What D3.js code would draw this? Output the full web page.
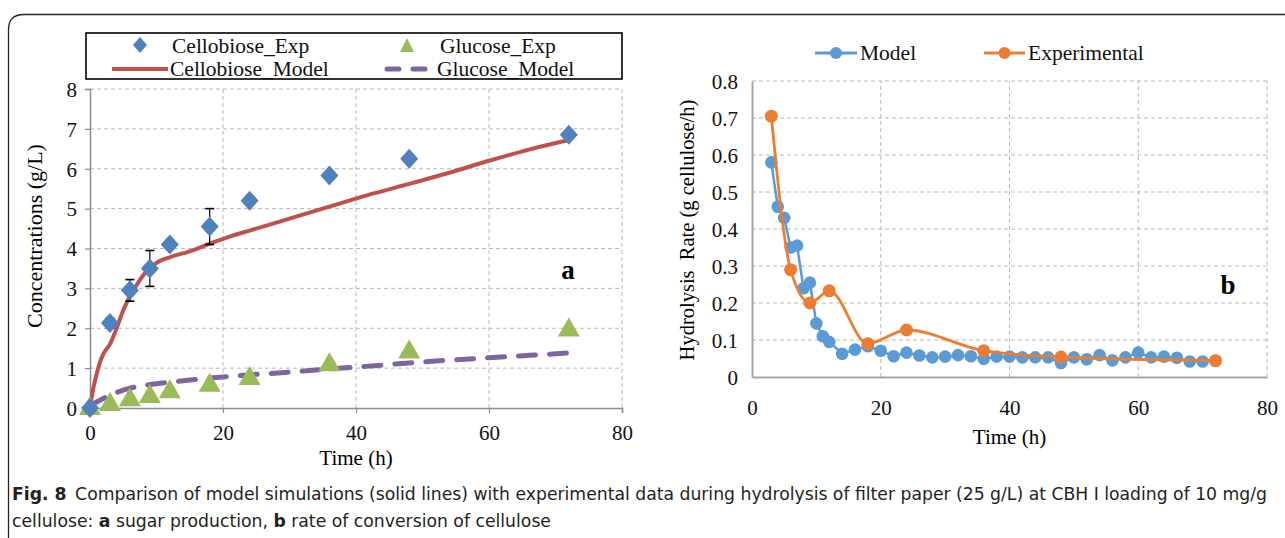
<!DOCTYPE html>
<html><head><meta charset="utf-8">
<script src="https://cdn.jsdelivr.net/npm/d3@7"></script>
<style>
html,body{margin:0;padding:0;background:#fff;}
svg{display:block;}
</style></head>
<body>
<svg id="fig" width="1285" height="538"></svg>
<script>
// ---------- Data: panel a ----------
const expTime = [0, 3, 6, 9, 12, 18, 24, 36, 48, 72];
const cellobioseExp = [0, 2.13, 2.95, 3.5, 4.1, 4.55, 5.2, 5.83, 6.25, 6.85];
const cellobioseErr = [0.04, 0.12, 0.27, 0.45, 0.1, 0.45, 0.06, 0.06, 0.1, 0.05];
const glucoseExp = [0, 0.1, 0.22, 0.3, 0.42, 0.58, 0.75, 1.1, 1.42, 1.97];
const glucoseErr = [0.03, 0.06, 0.07, 0.08, 0.07, 0.07, 0.06, 0.07, 0.07, 0.06];
const cbModelTime = [0, 0.5, 1, 1.5, 2, 3, 4, 5, 6, 7, 8, 9, 10, 12, 15, 18, 21, 24, 30, 36, 42, 48, 54, 60, 66, 72];
const cellobioseModel = [0, 0.5, 0.85, 1.15, 1.35, 1.6, 2.0, 2.45, 2.8, 3.08, 3.33, 3.5, 3.64, 3.78, 3.93, 4.12, 4.3, 4.45, 4.75, 5.05, 5.35, 5.62, 5.9, 6.2, 6.48, 6.72];
const glcModelTime = [0, 1, 2, 3, 4, 5, 6, 8, 10, 12, 15, 18, 24, 30, 36, 42, 48, 54, 60, 66, 72];
const glucoseModel = [0.05, 0.15, 0.24, 0.32, 0.39, 0.45, 0.5, 0.56, 0.61, 0.65, 0.7, 0.75, 0.83, 0.9, 0.98, 1.05, 1.13, 1.2, 1.26, 1.32, 1.38];
const aXTicks = [0, 20, 40, 60, 80];
const aYTicks = [0, 1, 2, 3, 4, 5, 6, 7, 8];

// ---------- Data: panel b ----------
const rateModelTime = [3, 4, 5, 6, 7, 8, 9, 10, 11, 12, 14, 16, 18, 20, 22, 24, 26, 28, 30, 32, 34, 36, 38, 40, 42, 44, 46, 48, 50, 52, 54, 56, 58, 60, 62, 64, 66, 68, 70, 72];
const rateModel = [0.58, 0.46, 0.43, 0.35, 0.355, 0.24, 0.255, 0.145, 0.11, 0.095, 0.063, 0.074, 0.083, 0.071, 0.056, 0.066, 0.058, 0.053, 0.055, 0.059, 0.056, 0.049, 0.055, 0.055, 0.053, 0.053, 0.053, 0.038, 0.053, 0.048, 0.059, 0.045, 0.053, 0.066, 0.053, 0.055, 0.052, 0.042, 0.042, 0.044];
const rateExpTime = [3, 6, 9, 12, 18, 24, 36, 48, 72];
const rateExp = [0.705, 0.29, 0.2, 0.233, 0.09, 0.127, 0.071, 0.054, 0.044];
const bXTicks = [0, 20, 40, 60, 80];
const bYTicks = [0, 0.1, 0.2, 0.3, 0.4, 0.5, 0.6, 0.7, 0.8];

const svg = d3.select("#fig");
svg.append("rect").attr("width", 1285).attr("height", 538).attr("fill", "#fff");

svg.append("path")
  .attr("d", "M8.5,540 L8.5,30 Q8.5,14.5 24,14.5 L1290,14.5")
  .attr("fill", "none").attr("stroke", "#222").attr("stroke-width", 1.3);

const gridColor = "#b8b8b8";
const axisColor = "#8c8c8c";
const fontSerif = '"Liberation Serif","Times New Roman",serif';
const fs = 21;

// ================= Panel a =================
const ax = d3.scaleLinear().domain([0, 80]).range([90, 622]);
const ay = d3.scaleLinear().domain([0, 8]).range([408, 89]);
const ga = svg.append("g");

ga.selectAll(".hg").data(aYTicks.filter(d => d > 0)).join("line")
  .attr("x1", ax(0)).attr("x2", ax(80)).attr("y1", d => ay(d)).attr("y2", d => ay(d))
  .attr("stroke", gridColor).attr("stroke-dasharray", "4,3").attr("stroke-width", 1);
ga.selectAll(".vg").data(aXTicks.filter(d => d > 0)).join("line")
  .attr("x1", d => ax(d)).attr("x2", d => ax(d)).attr("y1", ay(0)).attr("y2", ay(8))
  .attr("stroke", gridColor).attr("stroke-dasharray", "4,3").attr("stroke-width", 1);

const aLeft = d3.axisLeft(ay).tickValues(aYTicks).tickSize(5).tickFormat(d3.format("d"));
const aBottom = d3.axisBottom(ax).tickValues(aXTicks).tickSize(5).tickFormat(d3.format("d"));
const gaL = ga.append("g").attr("transform", `translate(${ax(0)},0)`).call(aLeft);
const gaB = ga.append("g").attr("transform", `translate(0,${ay(0)})`).call(aBottom);
[gaL, gaB].forEach(g => {
  g.select(".domain").attr("stroke", axisColor).attr("stroke-width", 1.5);
  g.selectAll(".tick line").attr("stroke", axisColor).attr("stroke-width", 1.2);
  g.selectAll(".tick text").attr("font-family", fontSerif).attr("font-size", fs).attr("fill", "#111");
});
gaL.selectAll(".tick text").attr("x", -13).attr("dy", "0.35em");
gaB.selectAll(".tick text").attr("y", 25).attr("dy", "0.35em");

const lineA = d3.line().x(d => ax(d[0])).y(d => ay(d[1])).curve(d3.curveMonotoneX);
ga.append("path").datum(glcModelTime.map((t, i) => [t, glucoseModel[i]]))
  .attr("d", lineA).attr("fill", "none").attr("stroke", "#8064A2").attr("stroke-width", 5)
  .attr("stroke-dasharray", "17,14").attr("stroke-linecap", "round");
ga.append("path").datum(cbModelTime.map((t, i) => [t, cellobioseModel[i]]))
  .attr("d", lineA).attr("fill", "none").attr("stroke", "#C0504D").attr("stroke-width", 4)
  .attr("stroke-linejoin", "round");

function errBars(g, times, vals, errs, cap) {
  const eg = g.append("g");
  times.forEach((t, i) => {
    const x = ax(t), y1 = ay(vals[i] + errs[i]), y2 = ay(vals[i] - errs[i]);
    eg.append("line").attr("x1", x).attr("x2", x).attr("y1", y1).attr("y2", y2).attr("stroke", "#000").attr("stroke-width", 1.2);
    eg.append("line").attr("x1", x - cap).attr("x2", x + cap).attr("y1", y1).attr("y2", y1).attr("stroke", "#000").attr("stroke-width", 1.6);
    eg.append("line").attr("x1", x - cap).attr("x2", x + cap).attr("y1", y2).attr("y2", y2).attr("stroke", "#000").attr("stroke-width", 1.6);
  });
}

const triPath = "M0,-12 L11,7 L-11,7 Z";
errBars(ga, expTime, glucoseExp, glucoseErr, 2.5);
ga.selectAll(".tri").data(expTime.map((t, i) => [t, glucoseExp[i]])).join("path")
  .attr("d", triPath).attr("transform", d => `translate(${ax(d[0])},${ay(d[1])})`)
  .attr("fill", "#9BBB59");

const diaPath = "M0,-10 L9,0 L0,10 L-9,0 Z";
errBars(ga, expTime, cellobioseExp, cellobioseErr, 4.5);
ga.selectAll(".dia").data(expTime.map((t, i) => [t, cellobioseExp[i]])).join("path")
  .attr("d", diaPath).attr("transform", d => `translate(${ax(d[0])},${ay(d[1])})`)
  .attr("fill", "#4F81BD");

ga.append("text").attr("x", ax(40)).attr("y", 465).attr("text-anchor", "middle")
  .attr("font-family", fontSerif).attr("font-size", fs).text("Time (h)");
ga.append("text").attr("transform", `translate(42,236) rotate(-90)`).attr("text-anchor", "middle")
  .attr("font-family", fontSerif).attr("font-size", 22).text("Concentrations (g/L)");
ga.append("text").attr("x", 568).attr("y", 279).attr("text-anchor", "middle")
  .attr("font-family", fontSerif).attr("font-size", 27).attr("font-weight", "bold").text("a");

const lg = ga.append("g");
lg.append("rect").attr("x", 86).attr("y", 33).attr("width", 536).attr("height", 46)
  .attr("fill", "#fff").attr("stroke", "#000").attr("stroke-width", 1.6);
lg.append("path").attr("d", "M0,-8 L7,0 L0,8 L-7,0 Z").attr("transform", "translate(140,45)").attr("fill", "#4F81BD");
lg.append("path").attr("d", "M0,-8 L7,6 L-7,6 Z").attr("transform", "translate(407,46)").attr("fill", "#9BBB59");
lg.append("line").attr("x1", 112).attr("x2", 168).attr("y1", 69).attr("y2", 69)
  .attr("stroke", "#C0504D").attr("stroke-width", 4);
lg.append("line").attr("x1", 387).attr("x2", 434).attr("y1", 69).attr("y2", 69)
  .attr("stroke", "#8064A2").attr("stroke-width", 5).attr("stroke-dasharray", "12,14").attr("stroke-linecap", "round");
const legTxt = [["Cellobiose_Exp", 172, 53], ["Glucose_Exp", 440, 53], ["Cellobiose_Model", 170, 76], ["Glucose_Model", 437, 76]];
lg.selectAll(".lt").data(legTxt).join("text")
  .attr("x", d => d[1]).attr("y", d => d[2]).attr("font-family", fontSerif).attr("font-size", 21.5).attr("fill", "#111")
  .text(d => d[0]);

// ================= Panel b =================
const bx = d3.scaleLinear().domain([0, 80]).range([752, 1267]);
const by = d3.scaleLinear().domain([0, 0.8]).range([377, 81]);
const gb = svg.append("g");

gb.selectAll(".hg").data(bYTicks.filter(d => d > 0)).join("line")
  .attr("x1", bx(0)).attr("x2", bx(80)).attr("y1", d => by(d)).attr("y2", d => by(d))
  .attr("stroke", gridColor).attr("stroke-dasharray", "4,3");
gb.selectAll(".vg").data(bXTicks.filter(d => d > 0)).join("line")
  .attr("x1", d => bx(d)).attr("x2", d => bx(d)).attr("y1", by(0)).attr("y2", by(0.8))
  .attr("stroke", gridColor).attr("stroke-dasharray", "4,3");

const bLeft = d3.axisLeft(by).tickValues(bYTicks).tickSize(0).tickFormat(d => d === 0 ? "0" : d3.format(".1f")(d));
const bBottom = d3.axisBottom(bx).tickValues(bXTicks).tickSize(0).tickFormat(d3.format("d"));
const gbL = gb.append("g").attr("transform", `translate(${bx(0)},0)`).call(bLeft);
const gbB = gb.append("g").attr("transform", `translate(0,${by(0)})`).call(bBottom);
[gbL, gbB].forEach(g => {
  g.select(".domain").attr("stroke", "#a6a6a6").attr("stroke-width", 2);
  g.selectAll(".tick text").attr("font-family", fontSerif).attr("font-size", fs).attr("fill", "#111");
});
gbL.selectAll(".tick text").attr("x", -14).attr("dy", "0.35em");
gbB.selectAll(".tick text").attr("y", 31).attr("dy", "0.35em");

const lineB = d3.line().x(d => bx(d[0])).y(d => by(d[1]));
const lineBs = d3.line().x(d => bx(d[0])).y(d => by(d[1])).curve(d3.curveMonotoneX);
const modelPts = rateModelTime.map((t, i) => [t, rateModel[i]]);
const expPts = rateExpTime.map((t, i) => [t, rateExp[i]]);
gb.append("path").datum(modelPts).attr("d", lineB).attr("fill", "none")
  .attr("stroke", "#5B9BD5").attr("stroke-width", 2.5);
gb.selectAll(".mp").data(modelPts).join("circle")
  .attr("cx", d => bx(d[0])).attr("cy", d => by(d[1])).attr("r", 6.3).attr("fill", "#5B9BD5");
gb.append("path").datum(expPts).attr("d", lineBs).attr("fill", "none")
  .attr("stroke", "#ED7D31").attr("stroke-width", 2.8);
gb.selectAll(".ep").data(expPts).join("circle")
  .attr("cx", d => bx(d[0])).attr("cy", d => by(d[1])).attr("r", 6.5).attr("fill", "#ED7D31");

gb.append("text").attr("x", bx(40)).attr("y", 444).attr("text-anchor", "middle")
  .attr("font-family", fontSerif).attr("font-size", fs).text("Time (h)");
gb.append("text").attr("transform", `translate(694,230) rotate(-90)`).attr("text-anchor", "middle")
  .attr("font-family", fontSerif).attr("font-size", 20.5).attr("xml:space", "preserve")
  .text("Hydrolysis  Rate (g cellulose/h)");
gb.append("text").attr("x", 1228).attr("y", 294).attr("text-anchor", "middle")
  .attr("font-family", fontSerif).attr("font-size", 27).attr("font-weight", "bold").text("b");

const lb = gb.append("g");
[["Model", "#5B9BD5", 815, 857, 860], ["Experimental", "#ED7D31", 984, 1025, 1028]].forEach(d => {
  lb.append("line").attr("x1", d[2]).attr("x2", d[3]).attr("y1", 53).attr("y2", 53).attr("stroke", d[1]).attr("stroke-width", 2.8);
  lb.append("circle").attr("cx", (d[2] + d[3]) / 2).attr("cy", 53).attr("r", 6).attr("fill", d[1]);
  lb.append("text").attr("x", d[4]).attr("y", 60).attr("font-family", fontSerif).attr("font-size", 21.5).attr("fill", "#111").text(d[0]);
});

// ================= Caption =================
const capFont = '"Liberation Sans Narrow","DejaVu Sans Condensed","Open Sans",sans-serif';
const c1 = svg.append("text").attr("x", 12).attr("y", 500).attr("font-family", capFont).attr("font-stretch", "condensed")
  .attr("font-size", 17).attr("fill", "#231f20")
  .attr("textLength", 1255).attr("lengthAdjust", "spacingAndGlyphs");
c1.append("tspan").attr("font-weight", "bold").text("Fig. 8");
c1.append("tspan").text("\u2002Comparison of model simulations (solid lines) with experimental data during hydrolysis of filter paper (25 g/L) at CBH I loading of 10 mg/g");
const c2 = svg.append("text").attr("x", 12).attr("y", 527).attr("font-family", capFont).attr("font-stretch", "condensed")
  .attr("font-size", 17).attr("fill", "#231f20")
  .attr("textLength", 539).attr("lengthAdjust", "spacingAndGlyphs");
c2.append("tspan").text("cellulose: ");
c2.append("tspan").attr("font-weight", "bold").text("a");
c2.append("tspan").text(" sugar production, ");
c2.append("tspan").attr("font-weight", "bold").text("b");
c2.append("tspan").text(" rate of conversion of cellulose");
</script>
</body></html>
